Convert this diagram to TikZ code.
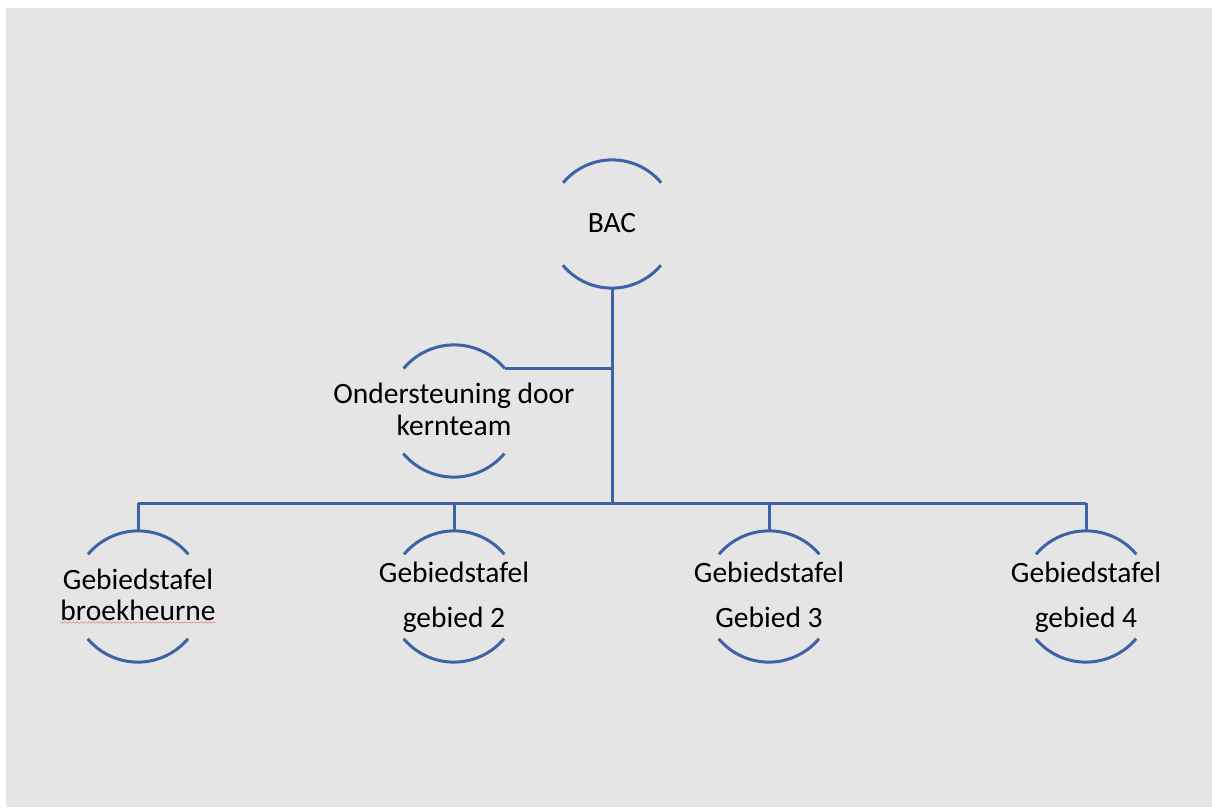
\documentclass[tikz,border=0pt]{standalone}
\usepackage{fontspec}
\setmainfont{Carlito}
\usetikzlibrary{decorations.pathmorphing}
\definecolor{bgray}{RGB}{229,229,229}
\definecolor{lineblue}{RGB}{62,98,168}
\definecolor{spellred}{RGB}{232,150,150}
\begin{document}
\begin{tikzpicture}[x=1pt,y=1pt,
  holder/.style={circle,draw=none,inner sep=0pt},
  arcline/.style={draw=lineblue,line width=3pt},
  conn/.style={draw=lineblue,line width=3pt},
  lbl/.style={anchor=base,inner sep=0pt,font=\fontsize{29.5}{31}\selectfont,text=black}]
\useasboundingbox (0,0) rectangle (1212,807);
\fill[white] (0,0) rectangle (1212,807);
\fill[bgray] (6,0) rectangle (1212,799);
% circle holders
\node[holder,minimum size=128] (bac) at (612,583) {};
\node[holder,minimum size=132] (onder) at (454,396) {};
\node[holder,minimum size=131] (g1) at (138,210.5) {};
\node[holder,minimum size=131] (g2) at (454,210.5) {};
\node[holder,minimum size=131] (g3) at (769,210.5) {};
\node[holder,minimum size=131] (g4) at (1086,210.5) {};
\coordinate (bus) at (612,304);
% arcs
\draw[arcline] (bac.40) arc[start angle=40,end angle=140,radius=64];
\draw[arcline] (bac.220) arc[start angle=220,end angle=320,radius=64];
\draw[arcline] (onder.40) arc[start angle=40,end angle=140,radius=66];
\draw[arcline] (onder.220) arc[start angle=220,end angle=320,radius=66];
\foreach \g in {g1,g2,g3,g4}{
  \draw[arcline] (\g.40) arc[start angle=40,end angle=140,radius=65.5];
  \draw[arcline] (\g.220) arc[start angle=220,end angle=320,radius=65.5];
}
% connectors
\draw[conn] (bac.south) -- (bus);
\draw[conn] (onder.40) -- (onder.40 -| bac.south);
\draw[conn] (g1.north |- bus) -- (g4.north |- bus);
\foreach \g in {g1,g2,g3,g4}{
  \draw[conn] (\g.north) -- (\g.north |- bus);
}
% labels
\node[lbl] (tbac) at (612,574) {BAC};
\node[lbl] (to1) at (454,404) {Ondersteuning door};
\node[lbl] (to2) at (454,372) {kernteam};
\node[lbl] (t1a) at (138,218) {Gebiedstafel};
\node[lbl] (t1b) at (138,187) {broekheurne};
\node[lbl] (t2a) at (454,225) {Gebiedstafel};
\node[lbl] (t2b) at (454,180) {gebied 2};
\node[lbl] (t3a) at (769,225) {Gebiedstafel};
\node[lbl] (t3b) at (769,180) {Gebied 3};
\node[lbl] (t4a) at (1086,225) {Gebiedstafel};
\node[lbl] (t4b) at (1086,180) {gebied 4};
\draw[spellred,line width=0.8pt,decorate,decoration={snake,segment length=4pt,amplitude=0.7pt}]
  ([yshift=-2.5pt]t1b.base west) -- ([yshift=-2.5pt]t1b.base east);
\end{tikzpicture}
\end{document}
